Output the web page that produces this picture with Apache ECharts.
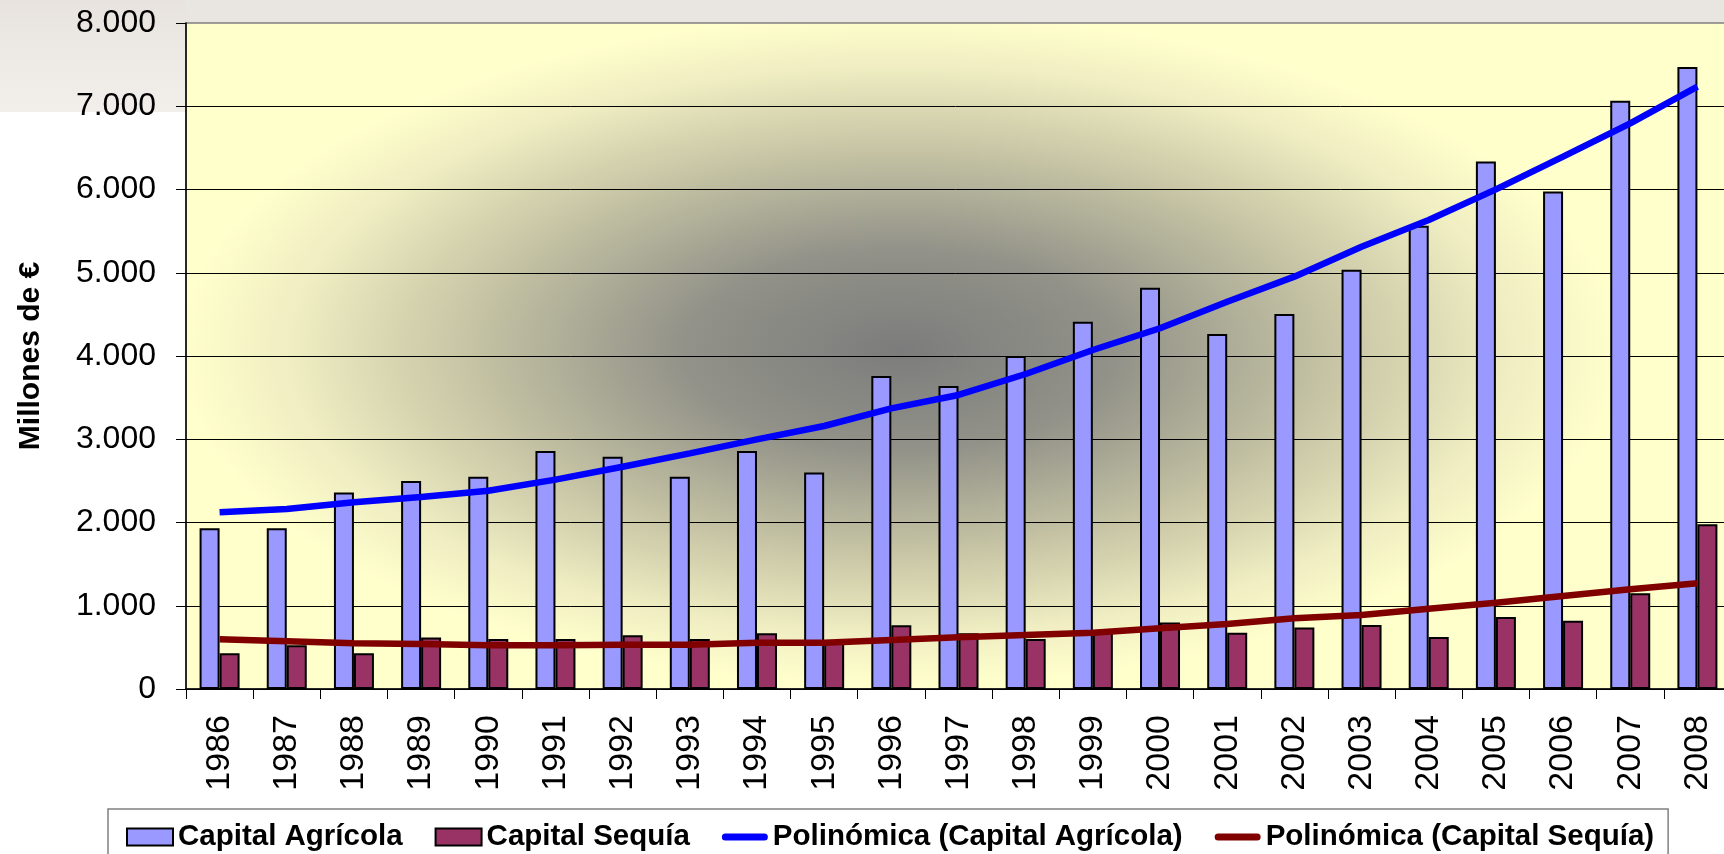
<!doctype html>
<html>
<head>
<meta charset="utf-8">
<title>Capital Agrícola y Capital Sequía</title>
<script src="https://cdn.jsdelivr.net/npm/echarts@6/dist/echarts.min.js"></script>
<style>
  html, body { margin: 0; padding: 0; background: #fff; }
  #main { width: 1724px; height: 854px; }
</style>
</head>
<body>
<div id="main"></div>
<script>
// datos (millones de euros)
var years = ['1986', '1987', '1988', '1989', '1990', '1991', '1992', '1993', '1994', '1995', '1996', '1997',
  '1998', '1999', '2000', '2001', '2002', '2003', '2004', '2005', '2006', '2007', '2008'];
var capitalAgricola = [1930, 1930, 2360, 2500, 2550, 2860, 2790, 2550, 2860, 2600, 3760, 3640,
  4000, 4410, 4820, 4265, 4505, 5035, 5565, 6335, 5975, 7065, 7470];
var capitalSequia = [430, 525, 430, 620, 600, 600, 645, 600, 670, 570, 765, 670,
  600, 690, 800, 675, 740, 770, 625, 865, 820, 1150, 1980];
var polinomicaAgricola = [2122, 2162, 2242, 2306, 2382, 2515, 2670, 2831, 2999, 3159, 3371, 3532,
  3784, 4072, 4333, 4652, 4953, 5313, 5634, 6002, 6394, 6795, 7235];
var polinomicaSequia = [597, 573, 549, 541, 525, 525, 532, 532, 556, 556, 589, 621,
  649, 677, 729, 781, 849, 889, 965, 1037, 1117, 1198, 1270];
var yTicks = [0, 1000, 2000, 3000, 4000, 5000, 6000, 7000, 8000];
var yTickLabels = ['0', '1.000', '2.000', '3.000', '4.000', '5.000', '6.000', '7.000', '8.000'];
var seriesNames = ['Capital Agrícola', 'Capital Sequía', 'Polinómica (Capital Agrícola)', 'Polinómica (Capital Sequía)'];

var font = 'Liberation Sans, Arial, sans-serif';
var W = 1724, H = 854;
var gLeft = 186, gTop = 23, gRight = -7, gBottom = 165;
var plotW = W - gLeft - gRight, plotH = H - gTop - gBottom;

// fondo del area de trazado: degradado eliptico (gris en el centro -> amarillo)
var sx = 720 / 335;
var bgFill = new echarts.graphic.RadialGradient(
  (900 - gLeft) / plotW, (350 - gTop) / plotH, 335 / plotH,
  [
    { offset: 0, color: '#7c7c7c' },
    { offset: 0.3, color: '#929289' },
    { offset: 0.6, color: '#c6c4a4' },
    { offset: 0.85, color: '#f0eec2' },
    { offset: 1, color: '#ffffcc' }
  ]);

// icono de linea gruesa con extremos redondeados para la leyenda
var lineIcon = 'path://M3.5,0 L42.5,0 A3.5,3.5 0 0 1 42.5,7 L3.5,7 A3.5,3.5 0 0 1 3.5,0 Z';

var myChart = echarts.init(document.getElementById('main'));
var option = {
  backgroundColor: '#fff',
  animation: false,
  graphic: [
    {
      type: 'rect', z: -20, silent: true,
      shape: { x: 0, y: 0, width: W, height: gTop },
      style: { fill: '#e9e5e0' }
    },
    {
      type: 'rect', z: -20, silent: true,
      shape: { x: 0, y: 0, width: gLeft, height: 112 },
      style: {
        fill: new echarts.graphic.LinearGradient(0, 0, 0, 1, [
          { offset: 0, color: '#e8e3de' },
          { offset: 1, color: '#f2efeb' }
        ])
      }
    },
    {
      type: 'rect', z: -10, silent: true,
      x: gLeft, y: gTop, scaleX: sx,
      shape: { x: 0, y: 0, width: plotW / sx, height: plotH },
      style: { fill: bgFill }
    }
  ],
  grid: {
    left: gLeft, top: gTop, right: gRight, bottom: gBottom,
    outerBoundsMode: 'none',
    show: true,
    backgroundColor: 'transparent',
    borderColor: '#808080',
    borderWidth: 1.5
  },
  legend: {
    data: [
      { name: seriesNames[0], icon: 'rect' },
      { name: seriesNames[1], icon: 'rect' },
      { name: seriesNames[2], icon: lineIcon },
      { name: seriesNames[3], icon: lineIcon }
    ],
    left: 108, top: 809,
    itemWidth: 46, itemHeight: 17, itemGap: 32,
    padding: [13, 14, 30, 18],
    borderColor: '#808080', borderWidth: 1.5,
    backgroundColor: '#fff',
    selectedMode: false,
    textStyle: { fontFamily: font, fontWeight: 'bold', fontSize: 29.5, color: '#000' }
  },
  xAxis: {
    type: 'category',
    data: years,
    boundaryGap: true,
    axisLine: { lineStyle: { color: '#000', width: 1.5 } },
    axisTick: { show: true, length: 10, interval: 0, lineStyle: { color: '#000', width: 1 } },
    axisLabel: { interval: 0, rotate: 90, margin: 26, fontFamily: font, fontSize: 34, color: '#000' },
    splitLine: { show: false }
  },
  yAxis: {
    type: 'value',
    min: 0, max: 8000, interval: 1000,
    name: 'Millones de €',
    nameLocation: 'middle',
    nameGap: 140,
    nameTextStyle: { fontFamily: font, fontWeight: 'bold', fontSize: 30, color: '#000' },
    axisLine: { show: true, lineStyle: { color: '#000', width: 1.5 } },
    axisTick: { show: true, length: 10, lineStyle: { color: '#000', width: 1 } },
    axisLabel: {
      margin: 30, fontFamily: font, fontSize: 32, color: '#000',
      formatter: function (v) { return yTickLabels[yTicks.indexOf(v)]; }
    },
    splitLine: { show: true, showMaxLine: false, lineStyle: { color: '#000', width: 1 } }
  },
  series: [
    {
      name: seriesNames[0], type: 'bar', data: capitalAgricola,
      barWidth: 20, barGap: '0%',
      itemStyle: { color: '#9999ff', borderColor: '#000', borderWidth: 2 }
    },
    {
      name: seriesNames[1], type: 'bar', data: capitalSequia,
      barWidth: 20, barGap: '0%',
      itemStyle: { color: '#993366', borderColor: '#000', borderWidth: 2 }
    },
    {
      name: seriesNames[2], type: 'line', data: polinomicaAgricola,
      symbol: 'none', smooth: false,
      lineStyle: { color: '#0000ff', width: 6.5 },
      itemStyle: { color: '#0000ff' }
    },
    {
      name: seriesNames[3], type: 'line', data: polinomicaSequia,
      symbol: 'none', smooth: false,
      lineStyle: { color: '#800000', width: 6.5 },
      itemStyle: { color: '#800000' }
    }
  ]
};
myChart.setOption(option);
</script>
</body>
</html>
